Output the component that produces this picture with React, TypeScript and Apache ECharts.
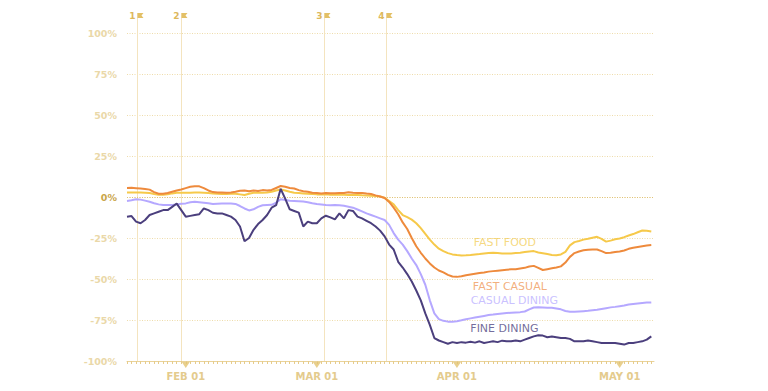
import React, { useEffect, useRef } from "react";
import * as echarts from "echarts";

// Day index 0 = Jan 19, one value per day (percent change)
const fastFood = [
  2.8, 2.8, 2.8, 2.7, 2.6, 2.4, 1.8, 1.4, 1.4, 1.6, 2.2, 2.6, 2.6, 2.6, 2.6, 2.7, 2.7, 2.6, 2.4, 2.2,
  2.0, 1.8, 1.8, 2.0, 2.0, 1.6, 1.2, 2.0, 2.6, 2.6, 2.6, 2.8, 3.2, 4.0, 4.6, 4.0, 3.2, 2.6, 2.4, 2.2,
  2.0, 1.8, 1.6, 1.6, 1.6, 1.4, 1.4, 1.4, 1.4, 1.2, 1.2, 1.2, 1.0, 0.9, 0.8, 0.6, 0.3, -0.5, -2.5, -4.5,
  -8, -11, -12.3, -13.8, -16, -19, -22.5, -26, -29, -31.5, -33, -34.2, -35, -35.4, -35.6, -35.5, -35.3, -35, -34.8, -34.5,
  -34.2, -34, -34.2, -34.4, -34.5, -34.4, -34.2, -34, -33.6, -33.2, -33, -33.8, -34.3, -34.8, -35.3, -35.5, -35, -33.5, -29.5, -27.5,
  -26.8, -26, -25.5, -24.8, -24.3, -25.5, -27.2, -26.6, -25.8, -25.3, -24.5, -23.5, -22.6, -21.5, -20.4, -20.6, -21,
];
const fastCasual = [
  5.5, 5.6, 5.4, 5.2, 4.9, 4.5, 3.0, 2.0, 2.0, 2.4, 3.2, 4.0, 4.6, 5.4, 6.2, 6.6, 6.5, 5.4, 4.0, 3.0,
  2.8, 2.8, 2.6, 2.8, 3.2, 3.8, 4.0, 3.5, 4.0, 3.6, 4.2, 3.9, 4.3, 5.5, 6.7, 6.2, 5.5, 5.2, 4.2, 3.5,
  3.2, 2.6, 2.4, 2.2, 2.4, 2.3, 2.3, 2.4, 2.4, 2.9, 2.6, 2.4, 2.5, 2.1, 1.8, 1.0, 0.3, -0.6, -3, -6.5,
  -10.5, -15.5, -19.5, -25, -30, -34, -37.5, -40.5, -43, -44.8, -46, -47.5, -48.5, -48.7, -48.3, -47.7, -47.2, -46.8, -46.4, -46,
  -45.5, -45.2, -44.9, -44.6, -44.3, -44.1, -44, -43.6, -43.2, -42.4, -42, -43.2, -44.5, -44, -43.5, -43, -42.3, -40, -36.5, -34.2,
  -33.2, -32.5, -32.2, -32, -32, -33, -34.2, -34, -33.5, -33.2, -32.6, -31.6, -31, -30.5, -30, -29.6, -29.3,
];
const casualDining = [
  -2.4, -2, -1.4, -1.6, -2.2, -2.9, -3.8, -4.5, -4.9, -4.9, -4.9, -4.6, -4.1, -3.9, -3.2, -2.9, -3.2, -3.5, -3.8, -4.3,
  -4.1, -3.9, -3.9, -3.9, -4.2, -5.5, -7, -8.2, -7.5, -6, -5, -4.9, -4.8, -3.5, -1.4, -1.8, -2.3, -2.4, -2.6, -2.8,
  -3.2, -3.8, -4.3, -4.6, -4.9, -5, -4.9, -5, -5.4, -5.9, -6.5, -7.6, -8.8, -10, -11, -12, -13, -14, -17, -22,
  -26, -29, -33, -37.5, -41.5, -47, -53.5, -63, -71, -74.5, -75.5, -76, -76, -75.8, -75.2, -74.5, -74, -73.5, -73, -72.5,
  -72, -71.7, -71.3, -71, -70.8, -70.6, -70.4, -70.2, -69.8, -68.5, -67.4, -67.3, -67.4, -67.5, -67.6, -68, -68.5, -69.5, -70, -70,
  -69.8, -69.6, -69.4, -69.1, -68.8, -68.3, -67.8, -67.3, -67, -66.6, -66.2, -65.6, -65.2, -64.9, -64.6, -64.4, -64.3,
];
const fineDining = [
  -12, -11.6, -15, -16, -14, -11, -10, -9, -8, -8, -6, -4, -8, -12, -11.5, -11, -10.5, -7, -8, -9.6,
  -10, -10, -11, -12, -14, -18, -27, -25, -20, -16.5, -14, -11, -6.5, -5, 5, -1, -7.5, -8.5, -9.5, -18,
  -15, -16, -16, -13, -11.4, -12.4, -13.6, -10, -13, -8, -8.5, -12, -13, -14.5, -16, -18, -20.5, -24, -29, -32,
  -39.5, -43, -47, -51.5, -57, -63, -71, -78, -86, -87.5, -88.5, -89.5, -88.5, -89, -88.5, -88.8, -88.2, -88.8, -88, -89,
  -88.5, -88, -88.5, -87.6, -88, -88, -87.5, -88, -87, -86, -85, -84.3, -84.5, -85.5, -85, -85.5, -86, -86, -86.5, -88,
  -88, -88, -87.5, -88, -88.5, -89, -89, -89, -89, -89.5, -90, -89, -89, -88.5, -88, -87, -85,
];

const seriesNames = ["FAST FOOD", "FAST CASUAL", "CASUAL DINING", "FINE DINING"];
const seriesColors = ["#f6c94a", "#ee8a3c", "#b5a8ff", "#4b3f7d"];
const labelColors = ["#f3cf62", "#ef9a5c", "#bcb1ff", "#4f4582"];
// label anchor [day, value] for each series name
const labelDays = [83.6, 84.7, 85.7, 83.5];
const labelValues = [-27.9, -54.7, -63.4, -80];

const xTickDays = Array.from({ length: 117 }, (_, i) => i);
const xLabelDays = [13, 42, 73, 109];
const xLabelTexts = ["FEB 01", "MAR 01", "APR 01", "MAY 01"];

const markerDays = [2.3, 11.9, 43.6, 57.2];
const markerLabels = ["1", "2", "3", "4"];

const yTicks = [-100, -75, -50, -25, 0, 25, 50, 75, 100];

export default function App() {
  const ref = useRef<HTMLDivElement>(null);
  useEffect(() => {
    if (!ref.current) return;
    const chart = echarts.init(ref.current, null, { renderer: "svg" });
    const toPairs = (arr: number[]) => arr.map((v, i) => [i, v]);
    const lineData = [fastFood, fastCasual, casualDining, fineDining];
    const drawOrder = [2, 0, 1, 3];
    const font = "DejaVu Sans";
    chart.setOption({
      animation: false,
      backgroundColor: "#ffffff",
      grid: { left: 127, right: 114, top: 33, bottom: 30 },
      xAxis: {
        type: "value",
        min: 0,
        max: 116.6,
        axisLine: { onZero: false, lineStyle: { color: "#ead39a", width: 1 } },
        axisTick: {
          customValues: xTickDays,
          length: 3,
          inside: false,
          lineStyle: { color: "#e6cc8c", width: 1 },
        },
        axisLabel: {
          customValues: xLabelDays,
          formatter: (v: number) => {
            const i = xLabelDays.indexOf(v);
            return i >= 0 ? xLabelTexts[i] : "";
          },
          color: "#e4cb8d",
          fontFamily: font,
          fontWeight: "bold",
          fontSize: 10,
          margin: 10,
        },
        splitLine: { show: false },
      },
      yAxis: {
        type: "value",
        min: -100,
        max: 100,
        interval: 25,
        axisLine: { show: false },
        axisTick: { show: false },
        axisLabel: {
          formatter: (v: number) => (yTicks.includes(v) ? `${v}%` : ""),
          color: (v: any) => (Number(v) === 0 ? "#c9a549" : "#ead8a8"),
          fontFamily: font,
          fontWeight: "bold",
          fontSize: 9.5,
          margin: 10,
        },
        splitLine: {
          lineStyle: { color: "#eedcab", type: [1, 1.5], width: 1 },
        },
      },
      series: [
        {
          type: "custom",
          silent: true,
          clip: false,
          z: 1,
          data: markerDays.map((d) => [d, -100]),
          renderItem: (params: any, api: any) => {
            const d = api.value(0);
            const top = api.coord([d, 100]);
            const bot = api.coord([d, -100]);
            const px = Math.round(top[0]) + 0.5;
            const poleTop = top[1] - 20;
            return {
              type: "group",
              children: [
                {
                  type: "line",
                  shape: { x1: px, y1: poleTop, x2: px, y2: bot[1] },
                  style: { stroke: "#f4e4bf", lineWidth: 1 },
                },
                {
                  type: "polygon",
                  shape: {
                    points: [
                      [px, poleTop],
                      [px + 6, poleTop],
                      [px + 4, poleTop + 2.5],
                      [px + 6, poleTop + 5],
                      [px, poleTop + 5],
                    ],
                  },
                  style: { fill: "#e3c067" },
                },
                {
                  type: "text",
                  style: {
                    text: markerLabels[params.dataIndex],
                    x: px - 2,
                    y: poleTop + 3,
                    align: "right",
                    verticalAlign: "middle",
                    fill: "#ddb85c",
                    font: `bold 9px ${font}`,
                  },
                },
              ],
            };
          },
        },
        ...drawOrder.map((k) => ({
          type: "line",
          name: seriesNames[k],
          data: toPairs(lineData[k]),
          showSymbol: false,
          symbol: "none",
          smooth: false,
          z: 3,
          lineStyle: { color: seriesColors[k], width: 2 },
          markLine:
            k === 0
              ? {
                  silent: true,
                  symbol: "none",
                  label: { show: false },
                  lineStyle: { color: "#e0c274", type: [1, 1.5], width: 1 },
                  data: [{ yAxis: 0 }],
                  z: 2,
                }
              : undefined,
        })),
        {
          type: "scatter",
          silent: true,
          z: 4,
          symbol: "triangle",
          symbolRotate: 180,
          symbolSize: [8, 6],
          symbolOffset: [0, 4],
          itemStyle: { color: "#e2c371" },
          data: xLabelDays.map((d) => [d, -100]),
        },
        {
          type: "scatter",
          silent: true,
          z: 5,
          symbolSize: 1,
          itemStyle: { color: "transparent" },
          label: {
            show: true,
            position: "inside",
            formatter: "{b}",
            fontFamily: font,
            fontSize: 11,
          },
          data: seriesNames.map((n, i) => ({
            name: n,
            value: [labelDays[i], labelValues[i]],
            label: { color: labelColors[i] },
          })),
        },
      ],
    });
    return () => chart.dispose();
  }, []);
  return (
    <div
      ref={ref}
      style={{ position: "fixed", left: 0, top: 0, width: 768, height: 391 }}
    />
  );
}
